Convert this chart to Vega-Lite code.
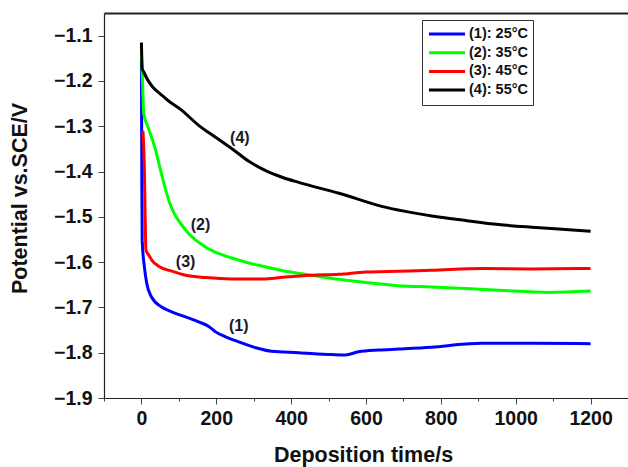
{
  "$schema": "https://vega.github.io/schema/vega-lite/v6.json",
  "width": 524,
  "height": 385,
  "autosize": {"type": "none"},
  "padding": {"left": 104, "top": 13, "right": 0, "bottom": 69},
  "background": "white",
  "config": {
    "view": {"stroke": null},
    "font": "Liberation Sans",
    "axis": {"grid": false, "domainColor": "#222", "tickColor": "#444", "labelFont": "Liberation Sans", "titleFont": "Liberation Sans", "labelFontWeight": "bold", "titleFontWeight": "bold", "labelColor": "#111", "titleColor": "#111"}
  },
  "datasets": {
    "curves": [
      {"t": 0, "v": -1.155, "s": "(1): 25°C"},
      {"t": 1, "v": -1.4, "s": "(1): 25°C"},
      {"t": 2, "v": -1.552, "s": "(1): 25°C"},
      {"t": 8, "v": -1.611, "s": "(1): 25°C"},
      {"t": 14, "v": -1.646, "s": "(1): 25°C"},
      {"t": 27, "v": -1.677, "s": "(1): 25°C"},
      {"t": 54, "v": -1.699, "s": "(1): 25°C"},
      {"t": 81, "v": -1.71, "s": "(1): 25°C"},
      {"t": 118, "v": -1.721, "s": "(1): 25°C"},
      {"t": 153, "v": -1.732, "s": "(1): 25°C"},
      {"t": 180, "v": -1.742, "s": "(1): 25°C"},
      {"t": 198, "v": -1.754, "s": "(1): 25°C"},
      {"t": 225, "v": -1.765, "s": "(1): 25°C"},
      {"t": 260, "v": -1.776, "s": "(1): 25°C"},
      {"t": 305, "v": -1.789, "s": "(1): 25°C"},
      {"t": 348, "v": -1.797, "s": "(1): 25°C"},
      {"t": 420, "v": -1.8, "s": "(1): 25°C"},
      {"t": 508, "v": -1.804, "s": "(1): 25°C"},
      {"t": 545, "v": -1.805, "s": "(1): 25°C"},
      {"t": 580, "v": -1.798, "s": "(1): 25°C"},
      {"t": 634, "v": -1.794, "s": "(1): 25°C"},
      {"t": 687, "v": -1.792, "s": "(1): 25°C"},
      {"t": 775, "v": -1.788, "s": "(1): 25°C"},
      {"t": 866, "v": -1.781, "s": "(1): 25°C"},
      {"t": 909, "v": -1.779, "s": "(1): 25°C"},
      {"t": 1043, "v": -1.779, "s": "(1): 25°C"},
      {"t": 1200, "v": -1.78, "s": "(1): 25°C"},

      {"t": 0, "v": -1.14, "s": "(2): 35°C"},
      {"t": 3, "v": -1.2, "s": "(2): 35°C"},
      {"t": 6, "v": -1.272, "s": "(2): 35°C"},
      {"t": 19, "v": -1.305, "s": "(2): 35°C"},
      {"t": 38, "v": -1.353, "s": "(2): 35°C"},
      {"t": 51, "v": -1.397, "s": "(2): 35°C"},
      {"t": 65, "v": -1.441, "s": "(2): 35°C"},
      {"t": 74, "v": -1.466, "s": "(2): 35°C"},
      {"t": 86, "v": -1.49, "s": "(2): 35°C"},
      {"t": 100, "v": -1.509, "s": "(2): 35°C"},
      {"t": 126, "v": -1.537, "s": "(2): 35°C"},
      {"t": 172, "v": -1.567, "s": "(2): 35°C"},
      {"t": 241, "v": -1.591, "s": "(2): 35°C"},
      {"t": 313, "v": -1.607, "s": "(2): 35°C"},
      {"t": 385, "v": -1.62, "s": "(2): 35°C"},
      {"t": 455, "v": -1.629, "s": "(2): 35°C"},
      {"t": 527, "v": -1.638, "s": "(2): 35°C"},
      {"t": 599, "v": -1.645, "s": "(2): 35°C"},
      {"t": 687, "v": -1.652, "s": "(2): 35°C"},
      {"t": 775, "v": -1.655, "s": "(2): 35°C"},
      {"t": 954, "v": -1.662, "s": "(2): 35°C"},
      {"t": 1088, "v": -1.667, "s": "(2): 35°C"},
      {"t": 1200, "v": -1.664, "s": "(2): 35°C"},

      {"t": 4, "v": -1.31, "s": "(3): 45°C"},
      {"t": 8, "v": -1.4, "s": "(3): 45°C"},
      {"t": 10, "v": -1.5, "s": "(3): 45°C"},
      {"t": 12, "v": -1.573, "s": "(3): 45°C"},
      {"t": 20, "v": -1.585, "s": "(3): 45°C"},
      {"t": 28, "v": -1.596, "s": "(3): 45°C"},
      {"t": 46, "v": -1.609, "s": "(3): 45°C"},
      {"t": 81, "v": -1.62, "s": "(3): 45°C"},
      {"t": 118, "v": -1.629, "s": "(3): 45°C"},
      {"t": 172, "v": -1.634, "s": "(3): 45°C"},
      {"t": 241, "v": -1.637, "s": "(3): 45°C"},
      {"t": 332, "v": -1.637, "s": "(3): 45°C"},
      {"t": 385, "v": -1.633, "s": "(3): 45°C"},
      {"t": 455, "v": -1.629, "s": "(3): 45°C"},
      {"t": 527, "v": -1.627, "s": "(3): 45°C"},
      {"t": 599, "v": -1.622, "s": "(3): 45°C"},
      {"t": 687, "v": -1.62, "s": "(3): 45°C"},
      {"t": 775, "v": -1.618, "s": "(3): 45°C"},
      {"t": 909, "v": -1.614, "s": "(3): 45°C"},
      {"t": 1043, "v": -1.615, "s": "(3): 45°C"},
      {"t": 1200, "v": -1.614, "s": "(3): 45°C"},

      {"t": 0, "v": -1.115, "s": "(4): 55°C"},
      {"t": 2, "v": -1.172, "s": "(4): 55°C"},
      {"t": 6, "v": -1.18, "s": "(4): 55°C"},
      {"t": 65, "v": -1.239, "s": "(4): 55°C"},
      {"t": 108, "v": -1.265, "s": "(4): 55°C"},
      {"t": 153, "v": -1.298, "s": "(4): 55°C"},
      {"t": 199, "v": -1.325, "s": "(4): 55°C"},
      {"t": 241, "v": -1.349, "s": "(4): 55°C"},
      {"t": 286, "v": -1.377, "s": "(4): 55°C"},
      {"t": 332, "v": -1.398, "s": "(4): 55°C"},
      {"t": 374, "v": -1.412, "s": "(4): 55°C"},
      {"t": 420, "v": -1.424, "s": "(4): 55°C"},
      {"t": 528, "v": -1.448, "s": "(4): 55°C"},
      {"t": 642, "v": -1.477, "s": "(4): 55°C"},
      {"t": 776, "v": -1.498, "s": "(4): 55°C"},
      {"t": 866, "v": -1.508, "s": "(4): 55°C"},
      {"t": 954, "v": -1.517, "s": "(4): 55°C"},
      {"t": 1043, "v": -1.523, "s": "(4): 55°C"},
      {"t": 1133, "v": -1.528, "s": "(4): 55°C"},
      {"t": 1200, "v": -1.532, "s": "(4): 55°C"}
    ],
    "notes": [
      {"t": 263, "v": -1.325, "label": "(4)"},
      {"t": 158, "v": -1.518, "label": "(2)"},
      {"t": 118, "v": -1.6, "label": "(3)"},
      {"t": 260, "v": -1.741, "label": "(1)"}
    ]
  },
  "layer": [
    {
      "data": {"name": "curves"},
      "mark": {"type": "line", "strokeWidth": 3, "interpolate": "monotone"},
      "encoding": {
        "x": {
          "field": "t", "type": "quantitative",
          "scale": {"domain": [-100, 1300], "nice": false, "zero": false},
          "axis": {
            "orient": "bottom",
            "values": [-100, 0, 100, 200, 300, 400, 500, 600, 700, 800, 900, 1000, 1100, 1200, 1300],
            "labelExpr": "(datum.value % 200 == 0 && datum.value >= 0) ? datum.label : ''",
            "format": "d",
            "tickSize": {"condition": {"test": "datum.value % 200 == 0", "value": 6}, "value": 3},
            "labelFontSize": 19.5,
            "labelPadding": 5,
            "title": "Deposition time/s",
            "titleFontSize": 21.5,
            "titleX": 259,
            "titleY": 63,
            "titleBaseline": "alphabetic",
            "domainWidth": 1.2
          }
        },
        "y": {
          "field": "v", "type": "quantitative",
          "scale": {"domain": [-1.9, -1.05], "nice": false, "zero": false},
          "axis": {
            "values": [-1.9, -1.85, -1.8, -1.75, -1.7, -1.65, -1.6, -1.55, -1.5, -1.45, -1.4, -1.35, -1.3, -1.25, -1.2, -1.15, -1.1],
            "labelExpr": "abs(datum.value * 10 - round(datum.value * 10)) < 0.01 ? format(datum.value, '.1f') : ''",
            "tickSize": {"condition": {"test": "abs(datum.value * 10 - round(datum.value * 10)) < 0.01", "value": 6}, "value": 3},
            "labelFontSize": 19.5,
            "labelPadding": 6,
            "title": "Potential vs.SCE/V",
            "titleFontSize": 21.5,
            "titleX": -84,
            "titleY": 185,
            "titleBaseline": "middle",
            "titleAngle": -90,
            "domainWidth": 1.2
          }
        },
        "color": {
          "field": "s", "type": "nominal",
          "scale": {"domain": ["(1): 25°C", "(2): 35°C", "(3): 45°C", "(4): 55°C"], "range": ["#0000ff", "#00ff00", "#ff0000", "#000000"]},
          "legend": {
            "orient": "none",
            "legendX": 318,
            "legendY": 7,
            "title": null,
            "symbolType": "stroke",
            "symbolSize": 1300,
            "symbolStrokeWidth": 3,
            "clipHeight": 18,
            "labelFont": "Liberation Sans",
            "labelFontWeight": "bold",
            "labelFontSize": 14.5,
            "labelColor": "#111",
            "labelOffset": 2,
            "strokeColor": "#333",
            "padding": 5,
            "rowPadding": 0.7
          }
        }
      }
    },
    {
      "data": {"name": "notes"},
      "mark": {"type": "text", "font": "Liberation Sans", "fontWeight": "bold", "fontSize": 16, "color": "#1a1a2a"},
      "encoding": {
        "x": {"field": "t", "type": "quantitative", "axis": {"orient": "top", "ticks": false, "labels": false, "title": null, "domainColor": "#222", "domainWidth": 2}},
        "y": {"field": "v", "type": "quantitative"},
        "text": {"field": "label"}
      }
    }
  ],
  "resolve": {"axis": {"x": "independent"}}
}
